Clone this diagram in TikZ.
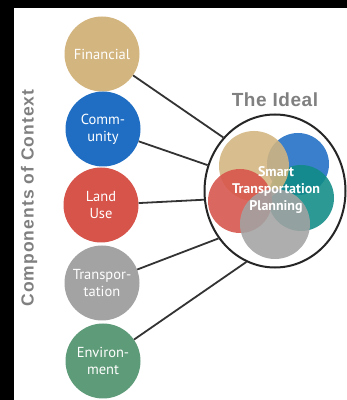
\documentclass[tikz,border=0pt]{standalone}
\usepackage{fontspec}
\setmainfont{PT Sans}
\newfontfamily\titlefont[LetterSpace=3]{Liberation Sans Bold}
\newfontfamily\sidefont[LetterSpace=6]{Liberation Sans Bold}
\usetikzlibrary{shapes.geometric}
\definecolor{cfin}{HTML}{D3B57F}
\definecolor{ccomm}{HTML}{1F6EC4}
\definecolor{cland}{HTML}{D7544A}
\definecolor{ctrans}{HTML}{A3A3A3}
\definecolor{cenv}{HTML}{5E9B78}
\definecolor{cteal}{HTML}{0F8C86}
\definecolor{ctitle}{HTML}{808080}
\definecolor{cline}{HTML}{333333}
\tikzset{
  comp/.style={circle, minimum size=75pt, inner sep=0pt, text=white, align=center,
    font=\fontsize{14.5}{17}\selectfont},
  venn/.style={circle, inner sep=0pt, fill opacity=0.88},
  link/.style={draw=cline, line width=1.8pt},
}
\begin{document}
\begin{tikzpicture}[x=1pt,y=1pt]
\useasboundingbox (0,0) rectangle (347,400);
\fill[white] (0,0) rectangle (347,400);
\fill[black] (0,392) rectangle (347,400);
\fill[black] (0,0) rectangle (14,400);

\node[comp, fill=cfin] (fin) at (102,346) {Financial};
\node[comp, fill=ccomm] (comm) at (103,271) {Comm-\\unity};
\node[comp, fill=cland] (land) at (101,195) {Land\\Use};
\node[comp, fill=ctrans] (trans) at (102,117) {Transpor-\\tation};
\node[comp, fill=cenv] (env) at (103,39) {Environ-\\ment};

\node[ellipse, draw=black!85, line width=2pt, fill=white, minimum width=141pt,
  minimum height=153pt, inner sep=0pt] (big) at (275,209) {};

\draw[link] (fin) -- (big.134);
\draw[link] (comm) -- (big.159);
\draw[link] (land) -- (big.187);
\draw[link] (trans) -- (big.220);
\draw[link] (env) -- (big.248);

\node[venn, fill=ccomm, minimum size=62pt] (vblue) at (298,236) {};
\node[venn, fill=cteal, minimum size=66pt] (vteal) at (301,202) {};
\node[venn, fill=cfin, minimum size=70pt] (vfin) at (254,234) {};
\node[venn, fill=cland, minimum size=64pt] (vland) at (240,199) {};
\node[venn, fill=ctrans, minimum size=70pt] (vtrans) at (275,176) {};

\node[text=white, align=center, font=\bfseries\fontsize{14}{17}\selectfont] (stp) at (276,210)
  {Smart\\Transportation\\Planning};

\node[text=ctitle, font=\titlefont\fontsize{19}{22}\selectfont] (ideal) at (275,300) {The Ideal};
\node[text=ctitle, rotate=90, font=\sidefont\fontsize{17.5}{20}\selectfont] (side) at (29,202) {Components of Context};
\end{tikzpicture}
\end{document}
